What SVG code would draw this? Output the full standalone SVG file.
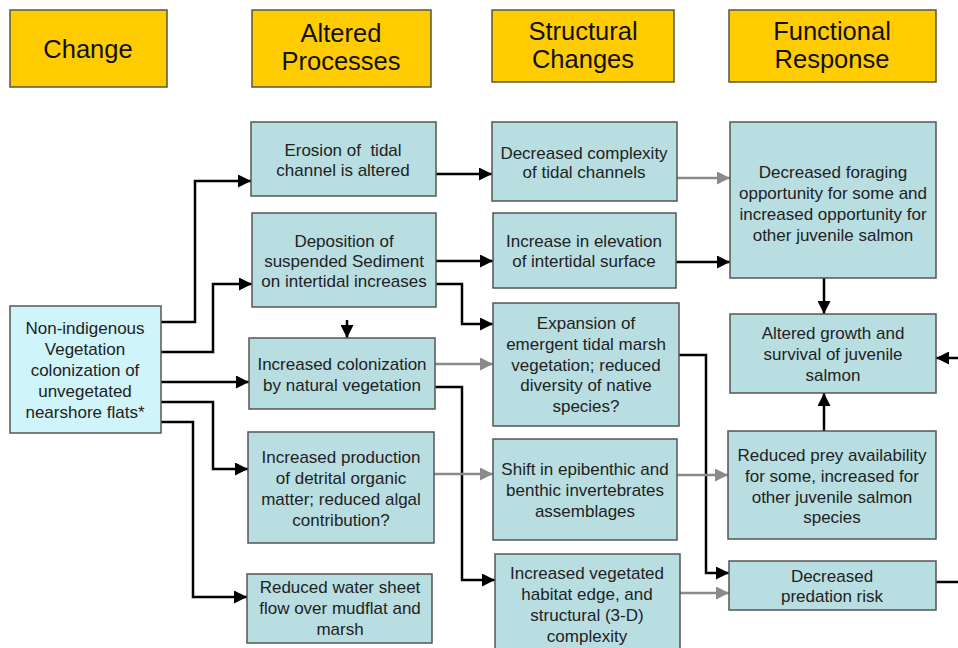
<svg xmlns="http://www.w3.org/2000/svg" width="958" height="648" viewBox="0 0 958 648">
<style>
.hdr{fill:#FFCC00;stroke:#5a5540;stroke-width:1.5}
.hdrt{font-family:"Liberation Sans",Arial,sans-serif;font-size:25.5px;fill:#111;text-anchor:middle}
.nd{fill:#B8DEE2;stroke:#555;stroke-width:1.5}
.src{fill:#CFF5FA;stroke:#555;stroke-width:1.5}
.t{font-family:"Liberation Sans",Arial,sans-serif;font-size:17px;fill:#222;text-anchor:middle}
.cb{fill:none;stroke:#000;stroke-width:2.5;marker-end:url(#ab)}
.cg{fill:none;stroke:#8a8a8a;stroke-width:2.5;marker-end:url(#ag)}
.cn{fill:none;stroke:#000;stroke-width:2.5}
</style>
<defs>
<marker id="ab" markerUnits="userSpaceOnUse" markerWidth="13" markerHeight="13" refX="13" refY="6.5" orient="auto"><path d="M0,0 L13,6.5 L0,13 z" fill="#000"/></marker>
<marker id="ag" markerUnits="userSpaceOnUse" markerWidth="13" markerHeight="13" refX="13" refY="6.5" orient="auto"><path d="M0,0 L13,6.5 L0,13 z" fill="#8a8a8a"/></marker>
</defs>
<rect width="958" height="648" fill="#fff"/>

<g id="h-change"><rect class="hdr" x="10" y="10" width="157" height="77"/><text class="hdrt" x="88" y="58">Change</text></g>
<g id="h-altered"><rect class="hdr" x="252" y="10" width="179" height="77"/><text class="hdrt" x="341" y="42">Altered</text><text class="hdrt" x="341" y="70">Processes</text></g>
<g id="h-structural"><rect class="hdr" x="492" y="10" width="182" height="72"/><text class="hdrt" x="583" y="40">Structural</text><text class="hdrt" x="583" y="68">Changes</text></g>
<g id="h-functional"><rect class="hdr" x="729" y="10" width="207" height="72"/><text class="hdrt" x="832" y="40">Functional</text><text class="hdrt" x="832" y="68">Response</text></g>

<g id="connectors">
<path class="cb" d="M161,322 H195 V181 H251"/>
<path class="cb" d="M161,352 H213 V284 H252"/>
<path class="cb" d="M161,382 H249"/>
<path class="cb" d="M161,402 H213 V469 H248"/>
<path class="cb" d="M161,422 H193 V597 H247"/>
<path class="cb" d="M436,174 H492"/>
<path class="cb" d="M436,261 H493"/>
<path class="cb" d="M436,284 H462 V324 H493"/>
<path class="cb" d="M347,320 V338"/>
<path class="cg" d="M435,364 H493"/>
<path class="cb" d="M435,387 H462 V580 H495"/>
<path class="cg" d="M434,474 H493"/>
<path class="cg" d="M677,178 H730"/>
<path class="cb" d="M676,262 H730"/>
<path class="cb" d="M679,355 H706 V573 H729"/>
<path class="cg" d="M677,475 H728"/>
<path class="cg" d="M680,593 H729"/>
<path class="cb" d="M824,278 V314"/>
<path class="cb" d="M824,431 V393"/>
<path class="cb" d="M958,358 H936"/>
<path class="cn" d="M936,582 H958"/>
</g>

<g id="n-source"><rect class="src" x="10" y="306" width="151" height="127"/>
<text class="t"><tspan x="85" y="334">Non-indigenous</tspan><tspan x="85" y="355">Vegetation</tspan><tspan x="85" y="376">colonization of</tspan><tspan x="85" y="397">unvegetated</tspan><tspan x="85" y="418">nearshore flats*</tspan></text></g>

<g id="n-erosion"><rect class="nd" x="251" y="122" width="185" height="74"/>
<text class="t"><tspan x="343" y="156">Erosion of&#160; tidal</tspan><tspan x="343" y="176">channel is altered</tspan></text></g>

<g id="n-deposition"><rect class="nd" x="252" y="213" width="184" height="94"/>
<text class="t"><tspan x="344" y="247">Deposition of</tspan><tspan x="344" y="267">suspended Sediment</tspan><tspan x="344" y="287">on intertidal increases</tspan></text></g>

<g id="n-colonization"><rect class="nd" x="249" y="338" width="186" height="71"/>
<text class="t"><tspan x="342" y="370">Increased colonization</tspan><tspan x="342" y="391">by natural vegetation</tspan></text></g>

<g id="n-detrital"><rect class="nd" x="248" y="432" width="186" height="111"/>
<text class="t"><tspan x="341" y="463">Increased production</tspan><tspan x="341" y="484">of detrital organic</tspan><tspan x="341" y="505">matter; reduced algal</tspan><tspan x="341" y="526">contribution?</tspan></text></g>

<g id="n-water"><rect class="nd" x="247" y="574" width="185" height="69"/>
<text class="t"><tspan x="340" y="593">Reduced water sheet</tspan><tspan x="340" y="614">flow over mudflat and</tspan><tspan x="340" y="635">marsh</tspan></text></g>

<g id="n-complexity"><rect class="nd" x="492" y="122" width="185" height="79"/>
<text class="t"><tspan x="584" y="159">Decreased complexity</tspan><tspan x="584" y="178">of tidal channels</tspan></text></g>

<g id="n-elevation"><rect class="nd" x="493" y="213" width="183" height="75"/>
<text class="t"><tspan x="584" y="247">Increase in elevation</tspan><tspan x="584" y="267">of intertidal surface</tspan></text></g>

<g id="n-expansion"><rect class="nd" x="493" y="303" width="186" height="123"/>
<text class="t"><tspan x="586" y="329">Expansion of</tspan><tspan x="586" y="350">emergent tidal marsh</tspan><tspan x="586" y="371">vegetation; reduced</tspan><tspan x="586" y="391">diversity of native</tspan><tspan x="586" y="412">species?</tspan></text></g>

<g id="n-shift"><rect class="nd" x="493" y="439" width="184" height="101"/>
<text class="t"><tspan x="585" y="475">Shift in epibenthic and</tspan><tspan x="585" y="496">benthic invertebrates</tspan><tspan x="585" y="517">assemblages</tspan></text></g>

<g id="n-edge"><rect class="nd" x="495" y="554" width="185" height="100"/>
<text class="t"><tspan x="587" y="579">Increased vegetated</tspan><tspan x="587" y="600">habitat edge, and</tspan><tspan x="587" y="621">structural (3-D)</tspan><tspan x="587" y="642">complexity</tspan></text></g>

<g id="n-foraging"><rect class="nd" x="730" y="122" width="206" height="156"/>
<text class="t"><tspan x="833" y="178">Decreased foraging</tspan><tspan x="833" y="199">opportunity for some and</tspan><tspan x="833" y="220">increased opportunity for</tspan><tspan x="833" y="241">other juvenile salmon</tspan></text></g>

<g id="n-growth"><rect class="nd" x="730" y="314" width="206" height="79"/>
<text class="t"><tspan x="833" y="339">Altered growth and</tspan><tspan x="833" y="360">survival of juvenile</tspan><tspan x="833" y="381">salmon</tspan></text></g>

<g id="n-prey"><rect class="nd" x="728" y="431" width="208" height="108"/>
<text class="t"><tspan x="832" y="461">Reduced prey availability</tspan><tspan x="832" y="482">for some, increased for</tspan><tspan x="832" y="503">other juvenile salmon</tspan><tspan x="832" y="523">species</tspan></text></g>

<g id="n-predation"><rect class="nd" x="729" y="561" width="207" height="49"/>
<text class="t"><tspan x="832" y="582">Decreased</tspan><tspan x="832" y="602">predation risk</tspan></text></g>
</svg>
